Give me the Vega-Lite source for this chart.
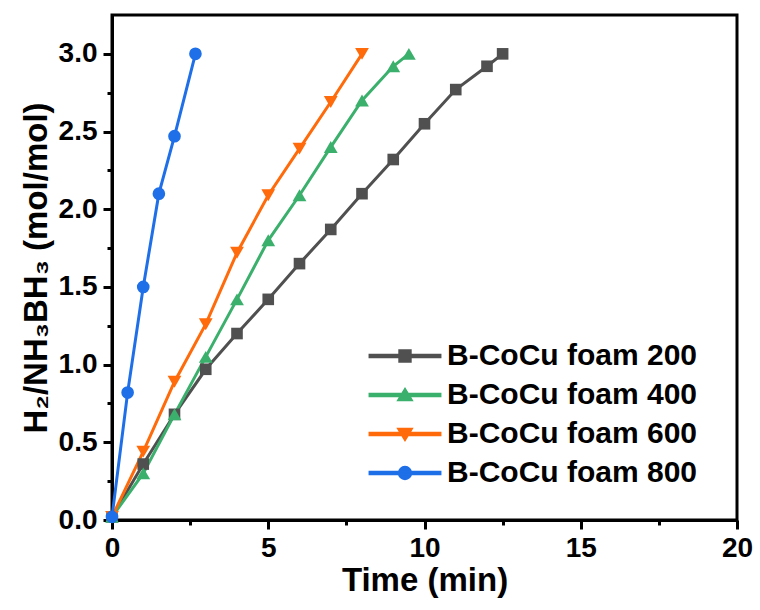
{
  "$schema": "https://vega.github.io/schema/vega-lite/v6.json",
  "width": 625,
  "height": 505,
  "autosize": "none",
  "padding": {"left": 112, "top": 15, "right": 23, "bottom": 90},
  "background": "white",
  "config": {
    "font": "Liberation Sans",
    "view": {"stroke": "black", "strokeWidth": 3},
    "axis": {
      "domainColor": "black", "domainWidth": 3, "tickColor": "black", "tickWidth": 3,
      "labelFont": "Liberation Sans", "labelFontWeight": "bold", "labelFontSize": 28, "labelColor": "black",
      "titleFont": "Liberation Sans", "titleFontWeight": "bold", "titleFontSize": 33, "titleColor": "black",
      "grid": false
    }
  },
  "data": {"values": [
    {"series": "B-CoCu foam 200", "t": 0, "y": 0.02},
    {"series": "B-CoCu foam 200", "t": 1, "y": 0.36},
    {"series": "B-CoCu foam 200", "t": 2, "y": 0.68},
    {"series": "B-CoCu foam 200", "t": 3, "y": 0.97},
    {"series": "B-CoCu foam 200", "t": 4, "y": 1.20},
    {"series": "B-CoCu foam 200", "t": 5, "y": 1.42},
    {"series": "B-CoCu foam 200", "t": 6, "y": 1.65},
    {"series": "B-CoCu foam 200", "t": 7, "y": 1.87},
    {"series": "B-CoCu foam 200", "t": 8, "y": 2.10},
    {"series": "B-CoCu foam 200", "t": 9, "y": 2.32},
    {"series": "B-CoCu foam 200", "t": 10, "y": 2.55},
    {"series": "B-CoCu foam 200", "t": 11, "y": 2.77},
    {"series": "B-CoCu foam 200", "t": 12, "y": 2.92},
    {"series": "B-CoCu foam 200", "t": 12.5, "y": 3.0},
    {"series": "B-CoCu foam 400", "t": 0, "y": 0.02},
    {"series": "B-CoCu foam 400", "t": 1, "y": 0.30},
    {"series": "B-CoCu foam 400", "t": 2, "y": 0.68},
    {"series": "B-CoCu foam 400", "t": 3, "y": 1.05},
    {"series": "B-CoCu foam 400", "t": 4, "y": 1.42},
    {"series": "B-CoCu foam 400", "t": 5, "y": 1.80},
    {"series": "B-CoCu foam 400", "t": 6, "y": 2.09},
    {"series": "B-CoCu foam 400", "t": 7, "y": 2.40},
    {"series": "B-CoCu foam 400", "t": 8, "y": 2.70},
    {"series": "B-CoCu foam 400", "t": 9, "y": 2.92},
    {"series": "B-CoCu foam 400", "t": 9.5, "y": 3.0},
    {"series": "B-CoCu foam 600", "t": 0, "y": 0.02},
    {"series": "B-CoCu foam 600", "t": 1, "y": 0.44},
    {"series": "B-CoCu foam 600", "t": 2, "y": 0.89},
    {"series": "B-CoCu foam 600", "t": 3, "y": 1.26},
    {"series": "B-CoCu foam 600", "t": 4, "y": 1.72},
    {"series": "B-CoCu foam 600", "t": 5, "y": 2.09},
    {"series": "B-CoCu foam 600", "t": 6, "y": 2.39},
    {"series": "B-CoCu foam 600", "t": 7, "y": 2.69},
    {"series": "B-CoCu foam 600", "t": 8, "y": 3.0},
    {"series": "B-CoCu foam 800", "t": 0, "y": 0.02},
    {"series": "B-CoCu foam 800", "t": 0.5, "y": 0.82},
    {"series": "B-CoCu foam 800", "t": 1, "y": 1.50},
    {"series": "B-CoCu foam 800", "t": 1.5, "y": 2.10},
    {"series": "B-CoCu foam 800", "t": 2, "y": 2.47},
    {"series": "B-CoCu foam 800", "t": 2.67, "y": 3.0}
  ]},
  "encoding": {
    "x": {
      "field": "t", "type": "quantitative",
      "scale": {"domain": [0, 20], "nice": false, "zero": false},
      "axis": {
        "title": "Time (min)",
        "values": [0, 2.5, 5, 7.5, 10, 12.5, 15, 17.5, 20],
        "labelExpr": "datum.value % 5 == 0 ? datum.label : ''",
        "tickSize": {"condition": {"test": "datum.value % 5 == 0", "value": 9}, "value": 5},
        "labelPadding": 5,
        "titlePadding": 2,
        "labelFlush": false
      }
    },
    "y": {
      "field": "y", "type": "quantitative",
      "scale": {"domain": [0, 3.25], "nice": false, "zero": false},
      "axis": {
        "title": "H₂/NH₃BH₃ (mol/mol)",
        "values": [0, 0.25, 0.5, 0.75, 1, 1.25, 1.5, 1.75, 2, 2.25, 2.5, 2.75, 3],
        "format": ".1f",
        "labelExpr": "round(datum.value * 100) % 50 == 0 ? datum.label : ''",
        "tickSize": {"condition": {"test": "round(datum.value * 100) % 50 == 0", "value": 9}, "value": 5},
        "labelPadding": 6,
        "titlePadding": 5,
        "labelFlush": false
      }
    },
    "color": {
      "field": "series", "type": "nominal",
      "scale": {
        "domain": ["B-CoCu foam 200", "B-CoCu foam 400", "B-CoCu foam 600", "B-CoCu foam 800"],
        "range": ["#505050", "#3AB06C", "#FF6A0A", "#1E6FE8"]
      },
      "legend": {
        "title": null,
        "orient": "none",
        "legendX": 278,
        "legendY": 326,
        "padding": 0,
        "symbolSize": 196,
        "symbolOpacity": 1,
        "labelOffset": 27,
        "labelFont": "Liberation Sans",
        "labelFontWeight": "bold",
        "labelFontSize": 30,
        "labelColor": "black",
        "labelLimit": 400,
        "rowPadding": 9
      }
    }
  },
  "layer": [
    {
      "transform": [{"filter": "false"}],
      "mark": {"type": "point", "filled": true, "opacity": 1},
      "encoding": {
        "shape": {
          "field": "series", "type": "nominal",
          "scale": {
            "domain": ["B-CoCu foam 200", "B-CoCu foam 400", "B-CoCu foam 600", "B-CoCu foam 800"],
            "range": [
              "M-5.1,-0.21H-0.85V-0.85H0.85V-0.21H5.1V0.21H0.85V0.85H-0.85V0.21H-5.1Z",
              "M-5.1,-0.21H5.1V0.21H-5.1ZM0,-0.95L1.05,0.8H-1.05Z",
              "M-5.1,-0.21H5.1V0.21H-5.1ZM0,0.95L-1.05,-0.8H1.05Z",
              "M-5.1,-0.21H5.1V0.21H-5.1ZM-0.92,0A0.92,0.92 0 1,1 0.92,0A0.92,0.92 0 1,1 -0.92,0Z"
            ]
          },
          "legend": {"title": null}
        }
      }
    },
    {
      "mark": {"type": "line", "strokeWidth": 3}
    },
    {
      "transform": [{"filter": "datum.series == 'B-CoCu foam 200'"}],
      "mark": {"type": "point", "filled": true, "opacity": 1, "shape": "square", "size": 135}
    },
    {
      "transform": [{"filter": "datum.series == 'B-CoCu foam 400'"}],
      "mark": {"type": "point", "filled": true, "opacity": 1, "shape": "triangle-up", "size": 190}
    },
    {
      "transform": [{"filter": "datum.series == 'B-CoCu foam 600'"}],
      "mark": {"type": "point", "filled": true, "opacity": 1, "shape": "triangle-down", "size": 190}
    },
    {
      "transform": [{"filter": "datum.series == 'B-CoCu foam 800'"}],
      "mark": {"type": "point", "filled": true, "opacity": 1, "shape": "circle", "size": 160}
    }
  ]
}
